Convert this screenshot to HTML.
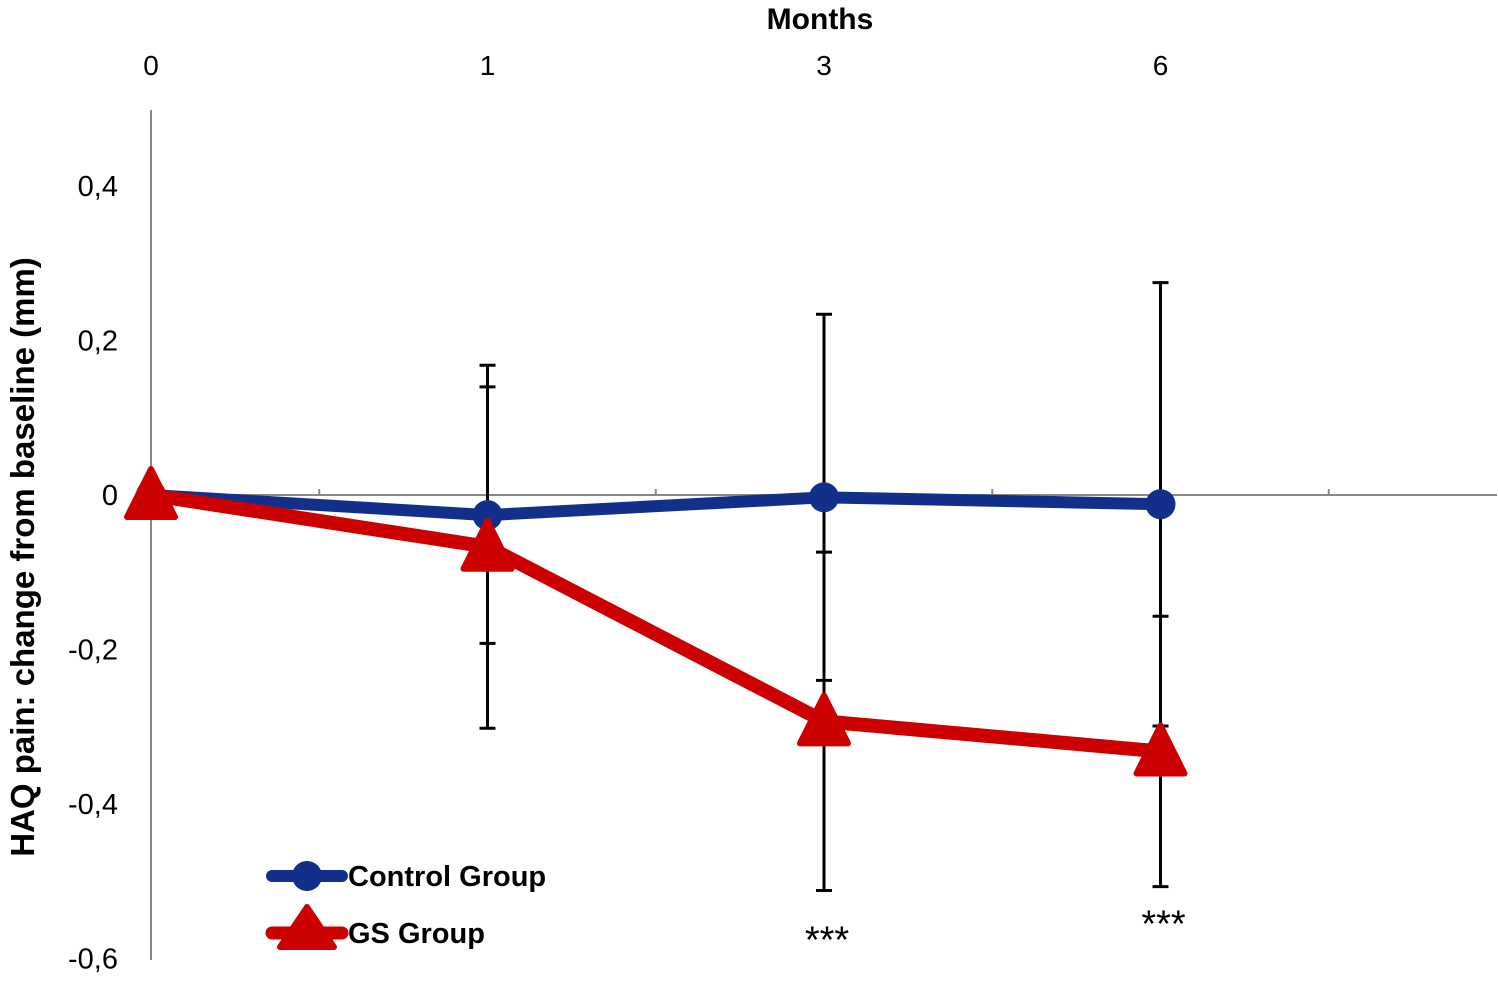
<!DOCTYPE html>
<html><head><meta charset="utf-8"><style>
body{margin:0;background:#fff}
svg{display:block;font-family:"Liberation Sans",sans-serif}
</style></head><body>
<svg id="chart" width="1498" height="982" viewBox="0 0 1498 982" xmlns="http://www.w3.org/2000/svg">
<text x="820" y="29" text-anchor="middle" font-size="30" font-weight="bold">Months</text>
<text transform="translate(34,557) rotate(-90)" text-anchor="middle" font-size="33" font-weight="bold">HAQ pain: change from baseline (mm)</text>
<g id="axes"></g>
<g id="errs"></g>
<g id="series"></g>
<g>
<line x1="272" y1="876" x2="342" y2="876" stroke="#12308a" stroke-width="12" stroke-linecap="round"/>
<circle cx="307" cy="876" r="15" fill="#12308a"/>
<text x="348" y="886" font-size="29" font-weight="bold">Control Group</text>
<line x1="272" y1="933" x2="342" y2="933" stroke="#cc0000" stroke-width="13" stroke-linecap="round"/>
<polygon points="307,907 334,947 280,947" fill="#cc0000" stroke="#cc0000" stroke-width="6" stroke-linejoin="round"/>
<text x="348" y="943" font-size="29" font-weight="bold">GS Group</text>
</g>
</svg>
<script>
const months=["0","1","3","6"];
const yTicks=[0.4,0.2,0,-0.2,-0.4,-0.6];
const yTickLabels=["0,4","0,2","0","-0,2","-0,4","-0,6"];
const controlVals=[0,-0.026,-0.003,-0.012];
const controlErr=[0,0.166,0.237,0.287];
const gsVals=[0,-0.067,-0.293,-0.332];
const gsErr=[0,0.235,0.219,0.175];
const signif=["","","***","***"];

const NS="http://www.w3.org/2000/svg";
const xS=i=>151+i*336.5;
const yS=v=>495-v*772.5;
function mk(tag,attrs,parent){const e=document.createElementNS(NS,tag);for(const k in attrs)e.setAttribute(k,attrs[k]);document.getElementById(parent).appendChild(e);return e;}

let e=mk('line',{x1:151,y1:110,x2:151,y2:960,stroke:'#888','stroke-width':2},'axes');


e=mk('line',{x1:151,y1:yS(0),x2:1497,y2:yS(0),stroke:'#888','stroke-width':2},'axes');


for(let k=0;k<4;k++){
  const tx=xS(k+0.5);
  e=mk('line',{x1:tx,y1:yS(0)-6,x2:tx,y2:yS(0),stroke:'#888','stroke-width':2},'axes');
  
  
}
months.forEach((m,i)=>{
  e=mk('text',{x:xS(i),y:75,'text-anchor':'middle','font-size':28},'axes');
  e.textContent=m;
  
  
});
yTicks.forEach((v,i)=>{
  e=mk('text',{x:118,y:yS(v)+10,'text-anchor':'end','font-size':29},'axes');
  e.textContent=yTickLabels[i];
  
  
});
function errBars(vals,errs){
  vals.forEach((v,i)=>{
    if(!errs[i])return;
    const x=xS(i),t=yS(v+errs[i]),b=yS(v-errs[i]);
    e=mk('path',{d:`M${x},${t}V${b}M${x-8},${t}H${x+8}M${x-8},${b}H${x+8}`,stroke:'#000','stroke-width':3,fill:'none'},'errs');
    
    
  });
}
errBars(controlVals,controlErr);errBars(gsVals,gsErr);
e=mk('polyline',{points:controlVals.map((v,i)=>xS(i)+','+yS(v)).join(' '),fill:'none',stroke:'#12308a','stroke-width':12,'stroke-linejoin':'round'},'series');


controlVals.forEach((v,i)=>{
  e=mk('circle',{cx:xS(i),cy:yS(v),r:15,fill:'#12308a'},'series');
  
  
});
e=mk('polyline',{points:gsVals.map((v,i)=>xS(i)+','+yS(v)).join(' '),fill:'none',stroke:'#cc0000','stroke-width':14,'stroke-linejoin':'round'},'series');


gsVals.forEach((v,i)=>{
  const x=xS(i),y=yS(v);
  e=mk('polygon',{points:`${x},${y-26} ${x+24},${y+22} ${x-24},${y+22}`,fill:'#cc0000',stroke:'#cc0000','stroke-width':6,'stroke-linejoin':'round'},'series');
  
  
});
signif.forEach((s,i)=>{
  if(!s)return;
  e=mk('text',{x:xS(i)+3,y:yS(gsVals[i]-gsErr[i])+(i==2?62:50),'text-anchor':'middle','font-size':38},'series');
  e.textContent=s;
  
  
});
</script>
</body></html>
